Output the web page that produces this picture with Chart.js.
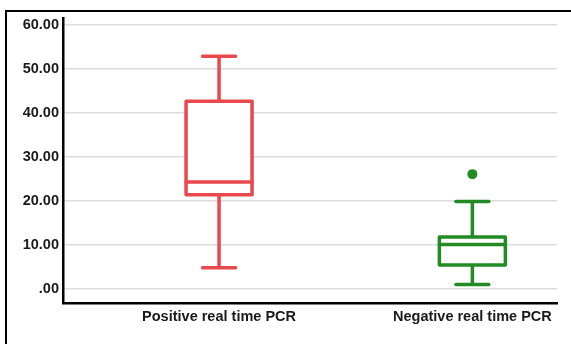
<!DOCTYPE html>
<html>
<head>
<meta charset="utf-8">
<script src="https://cdn.jsdelivr.net/npm/chart.js@4"></script>
<style>
    html, body { margin: 0; padding: 0; background: #fff; }
    #wrap { position: relative; width: 571px; height: 344px; overflow: hidden; }
    #frame {
        position: absolute; left: 5px; top: 10px; width: 700px; height: 500px;
        border-top: 2.5px solid #000; border-left: 2.5px solid #000;
    }
    #chart { position: absolute; left: 0; top: 0; }
</style>
</head>
<body>
<div id="wrap">
    <div id="frame"></div>
    <canvas id="chart" width="571" height="344"></canvas>
</div>
<script>
// categories and box plot statistics
const categories = ['Positive real time PCR', 'Negative real time PCR'];
const whiskerLow = [4.8, 1.0];
const q1 = [21.4, 5.45];
const median = [24.3, 10.1];
const q3 = [42.7, 11.8];
const whiskerHigh = [52.9, 19.9];
const outliers = [[], [26.1]];
const boxColors = ['#e8484e', '#238b23'];
const yTickValues = [0, 10, 20, 30, 40, 50, 60];

// box plot drawing via the chart's own scales
const boxPlot = {
    id: 'boxPlot',
    beforeDatasetsDraw(chart) {
        const ctx = chart.ctx;
        const x = chart.scales.x;
        const y = chart.scales.y;
        const halfBox = 33;
        const halfCap = 16.5;
        categories.forEach((cat, i) => {
            const cx = x.getPixelForValue(i + 1);
            const pLow = y.getPixelForValue(whiskerLow[i]);
            const pQ1 = y.getPixelForValue(q1[i]);
            const pMed = y.getPixelForValue(median[i]);
            const pQ3 = y.getPixelForValue(q3[i]);
            const pHigh = y.getPixelForValue(whiskerHigh[i]);
            ctx.save();
            ctx.strokeStyle = boxColors[i];
            ctx.lineWidth = 3.5;
            ctx.lineJoin = 'round';
            ctx.lineCap = 'round';
            // whiskers
            ctx.beginPath();
            ctx.moveTo(cx, pQ3); ctx.lineTo(cx, pHigh);
            ctx.moveTo(cx, pQ1); ctx.lineTo(cx, pLow);
            ctx.moveTo(cx - halfCap, pHigh); ctx.lineTo(cx + halfCap, pHigh);
            ctx.moveTo(cx - halfCap, pLow); ctx.lineTo(cx + halfCap, pLow);
            ctx.stroke();
            // box
            ctx.fillStyle = '#fff';
            ctx.fillRect(cx - halfBox, pQ3, halfBox * 2, pQ1 - pQ3);
            ctx.strokeRect(cx - halfBox, pQ3, halfBox * 2, pQ1 - pQ3);
            // median
            ctx.beginPath();
            ctx.moveTo(cx - halfBox, pMed); ctx.lineTo(cx + halfBox, pMed);
            ctx.stroke();
            ctx.restore();
        });
    }
};

const outlierPoints = [];
outliers.forEach((list, i) => list.forEach(v => outlierPoints.push({x: i + 1, y: v})));

new Chart(document.getElementById('chart').getContext('2d'), {
    type: 'scatter',
    data: {
        datasets: [{
            label: 'Outliers',
            data: outlierPoints,
            pointRadius: 5,
            pointBackgroundColor: outlierPoints.map(p => boxColors[p.x - 1]),
            pointBorderWidth: 0
        }]
    },
    options: {
        responsive: false,
        animation: false,
        layout: { padding: { top: 18, right: 14, left: 0, bottom: 0 } },
        plugins: { legend: { display: false }, tooltip: { enabled: false } },
        scales: {
            x: {
                type: 'linear',
                min: 0.384,
                max: 2.334,
                afterBuildTicks: scale => { scale.ticks = categories.map((c, i) => ({ value: i + 1 })); },
                afterFit: scale => { scale.height = 41; },
                grid: { display: false, drawTicks: false },
                border: { color: '#000', width: 2.5 },
                ticks: {
                    callback: v => categories[v - 1],
                    color: '#1a1a1a',
                    padding: 5,
                    maxRotation: 0,
                    autoSkip: false,
                    font: { family: 'Liberation Sans, Arial, sans-serif', size: 14.5, weight: 'bold' }
                }
            },
            y: {
                min: -3.2,
                max: 61.6,
                afterBuildTicks: scale => { scale.ticks = yTickValues.map(v => ({ value: v })); },
                afterFit: scale => { scale.width = 63; },
                grid: { color: '#dcdcdc', lineWidth: 1.5, drawTicks: false },
                border: { color: '#000', width: 2.5 },
                ticks: {
                    callback: v => v === 0 ? '.00' : v.toFixed(2),
                    color: '#1a1a1a',
                    padding: 4,
                    font: { family: 'Liberation Sans, Arial, sans-serif', size: 14.5, weight: 'bold' }
                }
            }
        }
    },
    plugins: [boxPlot]
});
</script>
</body>
</html>
